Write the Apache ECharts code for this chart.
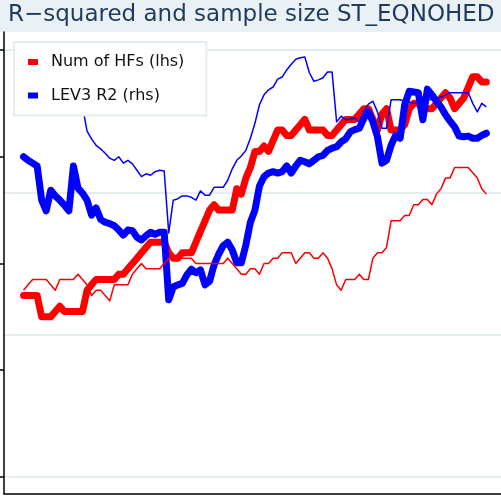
<!DOCTYPE html>
<html>
<head>
<meta charset="utf-8">
<script src="https://cdn.jsdelivr.net/npm/echarts@6/dist/echarts.min.js"></script>
<style>
html, body { margin: 0; padding: 0; background: #ffffff; }
#chart { width: 501px; height: 496px; }
</style>
</head>
<body>
<div id="chart"></div>
<script>
// Number of hedge funds in the estimation window (left axis)
const hfCount = [
  34, 34, 34, 34, 30, 30, 30, 31, 32, 31,
  31, 31, 31, 31, 35, 36, 37, 37, 37, 37,
  37, 38, 38, 39, 40, 41, 42, 43, 44, 44,
  44, 44, 42, 41, 41, 42, 42, 42, 44, 46,
  48, 50, 51, 50, 50, 50, 50, 54, 53, 56,
  58, 61, 61, 62, 61, 63, 65, 65, 64, 64,
  65, 66, 67, 65, 65, 65, 65, 64, 64, 65,
  66, 67, 67, 67, 68, 69, 69, 67, 65, 68,
  69, 65, 65, 65, 66, 69, 70, 70, 69, 69,
  69, 70, 71, 72, 71, 69, 70, 71, 73, 75,
  75, 74, 74
];

// Number of hedge funds, alternative sample (left axis, thin line)
const hfCountAlt = [
  35, 36, 37, 37, 37, 37, 36, 35, 37, 37,
  37, 37, 38, 37, 36, 34, 35, 35, 34, 33,
  36, 36, 36, 36, 38, 39, 40, 39, 39, 39,
  39, 40, 41, 41, 41, 41, 41, 41, 40, 40,
  40, 40, 40, 40, 40, 41, 40, 39, 38, 38,
  39, 39, 38, 40, 40, 41, 41, 42, 42, 42,
  40, 41, 42, 42, 41, 41, 42, 41, 39, 36,
  35, 37, 37, 37, 38, 37, 37, 41, 42, 42,
  43, 48, 48, 48, 49, 49, 51, 51, 52, 52,
  51, 53, 54, 56, 56, 58, 58, 58, 58, 57,
  56, 54, 53
];

// LEV3 R-squared (right axis)
const lev3R2 = [
  0.650, 0.645, 0.641, 0.637, 0.589, 0.574, 0.603, 0.595, 0.589, 0.582,
  0.574, 0.637, 0.606, 0.599, 0.589, 0.568, 0.578, 0.562, 0.558, 0.556,
  0.553, 0.547, 0.540, 0.547, 0.546, 0.537, 0.533, 0.539, 0.544, 0.541,
  0.544, 0.544, 0.449, 0.467, 0.470, 0.472, 0.484, 0.492, 0.487, 0.491,
  0.470, 0.475, 0.498, 0.513, 0.525, 0.530, 0.519, 0.501, 0.501, 0.526,
  0.558, 0.575, 0.609, 0.622, 0.627, 0.629, 0.627, 0.629, 0.637, 0.627,
  0.637, 0.645, 0.643, 0.640, 0.645, 0.650, 0.652, 0.659, 0.662, 0.664,
  0.671, 0.675, 0.685, 0.688, 0.690, 0.704, 0.713, 0.699, 0.678, 0.641,
  0.645, 0.666, 0.680, 0.676, 0.723, 0.742, 0.741, 0.740, 0.702, 0.745,
  0.737, 0.728, 0.720, 0.709, 0.700, 0.692, 0.679, 0.678, 0.679, 0.676,
  0.676, 0.680, 0.683
];

// LEV3 R-squared, alternative sample (right axis, thin line)
const lev3R2Alt = [
  null, null, null, null, null, null, null, null, null, null,
  null, null, null, 0.721, 0.686, 0.675, 0.666, 0.661, 0.655, 0.648,
  0.645, 0.650, 0.641, 0.645, 0.640, 0.631, 0.622, 0.626, 0.624, 0.629,
  0.631, 0.630, 0.543, 0.589, 0.591, 0.595, 0.595, 0.593, 0.589, 0.602,
  0.596, 0.596, 0.607, 0.607, 0.607, 0.617, 0.633, 0.645, 0.651, 0.659,
  0.676, 0.697, 0.723, 0.737, 0.744, 0.748, 0.759, 0.762, 0.772, 0.780,
  0.787, 0.789, 0.790, 0.768, 0.756, 0.758, 0.761, 0.769, 0.769, 0.699,
  0.707, 0.702, 0.703, 0.704, 0.699, 0.714, 0.724, 0.728, 0.713, 0.690,
  0.690, 0.730, 0.730, 0.730, 0.728, 0.727, 0.725, 0.725, 0.727, 0.731,
  0.730, 0.731, 0.734, 0.737, 0.740, 0.740, 0.740, 0.740, 0.740, 0.725,
  0.713, 0.725, 0.720
];

const lhsTicks = [0, 20, 40, 60, 80];
const rhsTicks = [0.2, 0.4, 0.6, 0.8];

const titleText = 'R\u2212squared and sample size ST_EQNOHED';
const legendNames = ['Num of HFs (lhs)', 'LEV3 R2 (rhs)'];

// pair each value with its period index for the value-type x axis
const withPeriod = arr => arr.map((v, i) => [i, v]);

const FONT = 'DejaVu Sans';

const chart = echarts.init(document.getElementById('chart'), null, { renderer: 'canvas' });

chart.setOption({
  animation: false,
  backgroundColor: '#ffffff',
  graphic: [{
    type: 'rect',
    silent: true,
    z: 0,
    shape: { x: 0, y: 0, width: 501, height: 32 },
    style: { fill: '#eaf1f4' }
  }],
  title: {
    text: titleText,
    left: 8,
    top: 4,
    padding: 0,
    z: 10,
    textStyle: { fontFamily: FONT, fontSize: 23, fontWeight: 'normal', color: '#1f3a5c' }
  },
  legend: {
    data: legendNames,
    orient: 'vertical',
    left: 14,
    top: 42,
    padding: [12, 22, 12, 14],
    itemGap: 17.5,
    itemWidth: 10,
    itemHeight: 6,
    icon: 'rect',
    selectedMode: false,
    backgroundColor: '#ffffff',
    borderColor: '#e6edf0',
    borderWidth: 2,
    z: 10,
    textStyle: { fontFamily: FONT, fontSize: 16, color: '#111111', padding: [0, 0, 0, 8] }
  },
  grid: { left: 4, right: -11, top: 32, bottom: 2, outerBoundsMode: 'none' },
  xAxis: {
    type: 'value',
    min: -4.3,
    max: 107.65,
    axisLine: { onZero: false, lineStyle: { color: '#000000', width: 1.5 } },
    axisTick: { show: false },
    axisLabel: { show: false },
    splitLine: { show: false }
  },
  yAxis: [{
    type: 'value',
    position: 'left',
    min: -3.185,
    max: 83.372,
    axisLine: { show: true, onZero: false, lineStyle: { color: '#000000', width: 1.5 } },
    axisTick: { show: true, customValues: lhsTicks, length: 4.5, lineStyle: { color: '#000000', width: 1.5 } },
    axisLabel: { show: false },
    splitLine: { show: false }
  }, {
    type: 'value',
    position: 'right',
    min: 0.17611,
    max: 0.82529,
    axisLine: { show: false },
    axisTick: { show: false, customValues: rhsTicks },
    axisLabel: { show: false },
    splitLine: { show: true, lineStyle: { color: '#e6edf0', width: 2 } }
  }],
  series: [{
    name: legendNames[0],
    type: 'line',
    yAxisIndex: 0,
    data: withPeriod(hfCount),
    showSymbol: false,
    symbol: 'none',
    silent: true,
    z: 2,
    itemStyle: { color: '#ff0000' },
    lineStyle: { color: '#ff0000', width: 7, cap: 'round', join: 'round' }
  }, {
    name: legendNames[1],
    type: 'line',
    yAxisIndex: 1,
    data: withPeriod(lev3R2),
    showSymbol: false,
    symbol: 'none',
    silent: true,
    z: 3,
    itemStyle: { color: '#0000ff' },
    lineStyle: { color: '#0000ff', width: 7, cap: 'round', join: 'round' }
  }, {
    name: 'HFs, alternative sample',
    type: 'line',
    yAxisIndex: 0,
    data: withPeriod(hfCountAlt),
    showSymbol: false,
    symbol: 'none',
    silent: true,
    z: 4,
    itemStyle: { color: '#ff0000' },
    lineStyle: { color: '#ff0000', width: 1.5, join: 'round' }
  }, {
    name: 'LEV3 R2, alternative sample',
    type: 'line',
    yAxisIndex: 1,
    data: withPeriod(lev3R2Alt),
    showSymbol: false,
    symbol: 'none',
    silent: true,
    z: 5,
    itemStyle: { color: '#0000ff' },
    lineStyle: { color: '#0000ff', width: 1.5, join: 'round' }
  }]
});
</script>
</body>
</html>
